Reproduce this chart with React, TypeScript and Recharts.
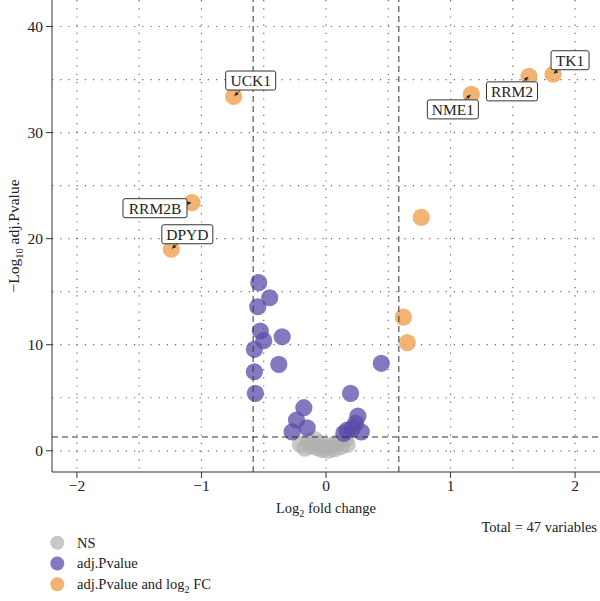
import React from 'react';
import { CartesianGrid, ReferenceLine, Scatter, ScatterChart, XAxis, YAxis, Label } from 'recharts';

// not significant
const nsLog2FC = [-0.205, -0.17, -0.14, -0.12, -0.09, -0.07, -0.05, -0.03, 0.0, 0.02, 0.04, 0.07, 0.09, 0.12, 0.15, 0.17];
const nsLogP = [0.6, 0.25, 0.9, 0.45, 1.05, 0.3, 0.7, 0.1, 0.35, 0.05, 0.5, 0.2, 0.75, 0.4, 1.0, 0.6];

// adj.Pvalue only
const pLog2FC = [-0.54, -0.452, -0.548, -0.527, -0.5, -0.352, -0.575, -0.379, -0.575, -0.567, -0.178, -0.237, -0.151, -0.272, 0.197, 0.256, 0.237, 0.17, 0.143, 0.283, 0.211, 0.444];
const pLogP = [15.85, 14.43, 13.58, 11.29, 10.38, 10.75, 9.57, 8.15, 7.45, 5.42, 4.06, 2.9, 2.17, 1.79, 5.42, 3.27, 2.58, 1.95, 1.64, 1.79, 2.11, 8.25];

// adj.Pvalue and log2 FC
const fcGenes = ['TK1', 'RRM2', 'NME1', '', 'UCK1', 'RRM2B', 'DPYD', '', ''];
const fcLog2FC = [1.823, 1.63, 1.167, 0.765, -0.741, -1.076, -1.242, 0.621, 0.653];
const fcLogP = [35.5, 35.3, 33.6, 22.0, 33.4, 23.4, 19.0, 12.6, 10.2];

const xTicks = [-2, -1, 0, 1, 2];
const yTicks = [0, 10, 20, 30, 40];
const xGrid = [-2, -1.5, -1, -0.5, 0, 0.5, 1, 1.5, 2];
const yGrid = [0, 5, 10, 15, 20, 25, 30, 35, 40];

const fcCut = Math.log2(1.5);
const pCut = -Math.log10(0.05);

const nsData = nsLog2FC.map((x, i) => ({ x, y: nsLogP[i] }));
const pData = pLog2FC.map((x, i) => ({ x, y: pLogP[i] }));
const fcData = fcLog2FC.map((x, i) => ({ x, y: fcLogP[i], gene: fcGenes[i] }));
const tagData = fcData.filter((d) => d.gene);

const FONT = '"Liberation Serif", "DejaVu Serif", serif';
const GREY = '#b0b0b0';
const PURPLE = '#5b4ba8';
const ORANGE = '#f0a050';

// where each gene tag sits relative to its point (px)
const tagPos: Record<string, { dx: number; dy: number; w: number }> = {
  TK1: { dx: 17, dy: -14, w: 38 },
  RRM2: { dx: -17, dy: 15, w: 51 },
  NME1: { dx: -18.5, dy: 15, w: 51 },
  UCK1: { dx: 17, dy: -16, w: 50 },
  RRM2B: { dx: -37, dy: 5.6, w: 64 },
  DPYD: { dx: 16, dy: -15, w: 51 },
};

const dot = (color: string, opacity: number) => (props: any) => (
  <circle cx={props.cx} cy={props.cy} r={8.6} fill={color} fillOpacity={opacity} />
);

const GeneTag = (props: any) => {
  const { cx, cy, payload } = props;
  const o = tagPos[payload.gene];
  if (!o) return <g />;
  const h = 19;
  const bx = cx + o.dx;
  const by = cy + o.dy;
  const vx = cx - bx;
  const vy = cy - by;
  const t = Math.min(o.w / 2 / Math.abs(vx || 1e-6), h / 2 / Math.abs(vy || 1e-6));
  const sx = bx + vx * t;
  const sy = by + vy * t;
  const len = Math.hypot(cx - sx, cy - sy) || 1;
  const ux = (cx - sx) / len;
  const uy = (cy - sy) / len;
  const tipX = cx - ux * 1;
  const tipY = cy - uy * 1;
  const baseX = tipX - ux * 4;
  const baseY = tipY - uy * 4;
  return (
    <g>
      <line x1={sx} y1={sy} x2={tipX} y2={tipY} stroke="#222" strokeWidth={0.8} />
      <polygon
        points={`${tipX},${tipY} ${baseX - uy * 2},${baseY + ux * 2} ${baseX + uy * 2},${baseY - ux * 2}`}
        fill="#222"
      />
      <rect x={bx - o.w / 2} y={by - h / 2} width={o.w} height={h} rx={2} fill="#fff" stroke="#333" strokeWidth={1} />
      <text x={bx} y={by + 5.5} textAnchor="middle" fontFamily={FONT} fontSize={15.5} fill="#222">
        {payload.gene}
      </text>
    </g>
  );
};

const minus = (v: number) => String(v).replace('-', '\u2212');

export default function App() {
  return (
    <div style={{ position: 'absolute', left: 0, top: 0, width: 600, height: 601, background: '#fff' }}>
      <ScatterChart width={600} height={601} margin={{ top: 0, right: 0, bottom: 79, left: 0 }}>
        <CartesianGrid
          horizontalValues={yGrid}
          verticalValues={xGrid}
          stroke="#666"
          strokeWidth={1.2}
          strokeDasharray="1.2 7"
        />
        <XAxis
          type="number"
          dataKey="x"
          domain={[-2.2, 2.2]}
          ticks={xTicks}
          allowDataOverflow
          height={50}
          tickSize={6}
          tickMargin={2}
          tickFormatter={minus}
          axisLine={{ stroke: '#333' }}
          tickLine={{ stroke: '#333' }}
          tick={{ fill: '#222', fontSize: 15.5, fontFamily: FONT }}
        >
          <Label
            content={(p: any) => {
              const vb = p.viewBox;
              return (
                <text x={vb.x + vb.width / 2} y={vb.y + 41} textAnchor="middle" fontFamily={FONT} fontSize={14.5} fill="#222">
                  Log<tspan dy={4} fontSize={10}>2</tspan>
                  <tspan dy={-4}> fold change</tspan>
                </text>
              );
            }}
          />
        </XAxis>
        <YAxis
          type="number"
          dataKey="y"
          domain={[-2, 42.5]}
          ticks={yTicks}
          allowDataOverflow
          width={52}
          tickSize={6}
          tickMargin={3}
          axisLine={{ stroke: '#333' }}
          tickLine={{ stroke: '#333' }}
          tick={{ fill: '#222', fontSize: 15.5, fontFamily: FONT }}
        >
          <Label
            content={(p: any) => {
              const vb = p.viewBox;
              const cx = 19;
              const cy = vb.y + vb.height / 2;
              return (
                <text x={cx} y={cy} transform={`rotate(-90 ${cx} ${cy})`} textAnchor="middle" fontFamily={FONT} fontSize={15.5} fill="#222">
                  {'\u2212Log'}<tspan dy={4} fontSize={10.5}>10</tspan>
                  <tspan dy={-4}> adj.Pvalue</tspan>
                </text>
              );
            }}
          />
        </YAxis>
        <Scatter data={nsData} shape={dot(GREY, 0.7)} isAnimationActive={false} />
        <Scatter data={pData} shape={dot(PURPLE, 0.75)} isAnimationActive={false} />
        <Scatter data={fcData} shape={dot(ORANGE, 0.8)} isAnimationActive={false} />
        <ReferenceLine x={-fcCut} stroke="#333" strokeDasharray="6 4" zIndex={650} />
        <ReferenceLine x={fcCut} stroke="#333" strokeDasharray="6 4" zIndex={650} />
        <ReferenceLine y={pCut} stroke="#333" strokeDasharray="6 4" zIndex={650} />
        <Scatter data={tagData} shape={GeneTag} isAnimationActive={false} zIndex={700} />
      </ScatterChart>
      <svg width={600} height={601} style={{ position: 'absolute', left: 0, top: 0, pointerEvents: 'none' }}>
        <text x={597} y={532} textAnchor="end" fontFamily={FONT} fontSize={14.5} fill="#222">
          Total = 47 variables
        </text>
        <circle cx={57.3} cy={542.7} r={7} fill={GREY} fillOpacity={0.7} />
        <circle cx={57.3} cy={563.5} r={7} fill={PURPLE} fillOpacity={0.75} />
        <circle cx={57.3} cy={584.3} r={7} fill={ORANGE} fillOpacity={0.8} />
        <text x={77} y={547.5} fontFamily={FONT} fontSize={14.5} fill="#222">NS</text>
        <text x={77} y={568.3} fontFamily={FONT} fontSize={14.5} fill="#222">adj.Pvalue</text>
        <text x={77} y={589} fontFamily={FONT} fontSize={14.5} fill="#222">
          adj.Pvalue and log<tspan dy={4} fontSize={10}>2</tspan>
          <tspan dy={-4}> FC</tspan>
        </text>
      </svg>
    </div>
  );
}
